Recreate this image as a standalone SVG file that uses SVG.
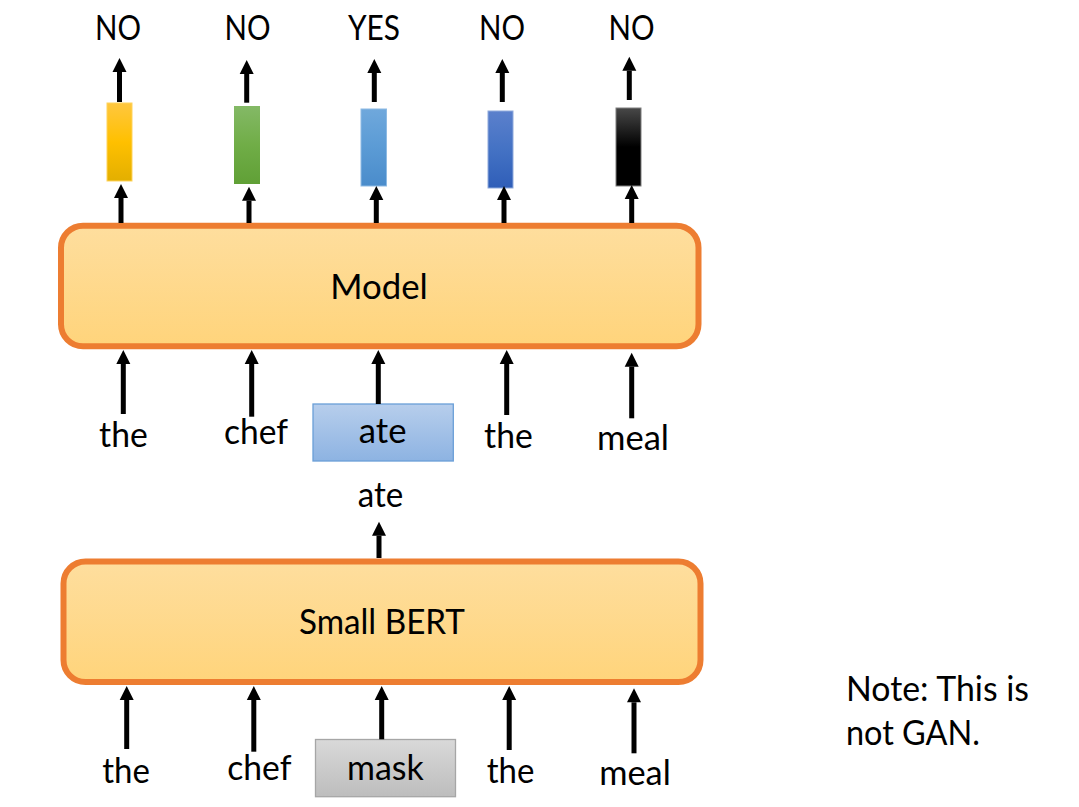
<svg xmlns="http://www.w3.org/2000/svg" width="1079" height="807" viewBox="0 0 1079 807">
<style>
text{font-family:Lato,"Liberation Sans",sans-serif;font-size:34px;fill:#000}
.c{text-anchor:middle}
.ar{stroke:#000;stroke-width:5;fill:none;marker-end:url(#ah)}
.box{stroke:#ED7D31;stroke-width:6;fill:url(#gOr)}
</style>
<defs>
<marker id="ah" markerUnits="userSpaceOnUse" markerWidth="14" markerHeight="14" refX="0" refY="7" orient="auto" overflow="visible">
<path d="M0,0 L14,7 L0,14 z" fill="#000"/>
</marker>
<linearGradient id="gOr" x1="0" y1="0" x2="0" y2="1"><stop offset="0" stop-color="#FEDE9E"/><stop offset="1" stop-color="#FFD47B"/></linearGradient>
<linearGradient id="gBlueBox" x1="0" y1="0" x2="0" y2="1"><stop offset="0" stop-color="#B7CEEC"/><stop offset="1" stop-color="#8DB3E2"/></linearGradient>
<linearGradient id="gGray" x1="0" y1="0" x2="0" y2="1"><stop offset="0" stop-color="#D9D9D9"/><stop offset="1" stop-color="#BDBDBD"/></linearGradient>
<linearGradient id="g1" x1="0" y1="0" x2="0" y2="1"><stop offset="0" stop-color="#FFC73F"/><stop offset="0.5" stop-color="#FFC000"/><stop offset="1" stop-color="#E3AF00"/></linearGradient>
<linearGradient id="g2" x1="0" y1="0" x2="0" y2="1"><stop offset="0" stop-color="#84B966"/><stop offset="0.5" stop-color="#70AD47"/><stop offset="1" stop-color="#60A036"/></linearGradient>
<linearGradient id="g3" x1="0" y1="0" x2="0" y2="1"><stop offset="0" stop-color="#6FA8DC"/><stop offset="0.5" stop-color="#5B9BD5"/><stop offset="1" stop-color="#4A8CCB"/></linearGradient>
<linearGradient id="g4" x1="0" y1="0" x2="0" y2="1"><stop offset="0" stop-color="#5B80CC"/><stop offset="0.5" stop-color="#4472C4"/><stop offset="1" stop-color="#2F5EB8"/></linearGradient>
<linearGradient id="g5" x1="0" y1="0" x2="0" y2="1"><stop offset="0" stop-color="#484848"/><stop offset="0.5" stop-color="#000"/><stop offset="1" stop-color="#000"/></linearGradient>
</defs>

<g id="labels-top">
<text class="c" x="118" y="39.5" textLength="46" lengthAdjust="spacingAndGlyphs">NO</text>
<text class="c" x="247.5" y="39.5" textLength="46" lengthAdjust="spacingAndGlyphs">NO</text>
<text class="c" x="374" y="39.5" textLength="52" lengthAdjust="spacingAndGlyphs">YES</text>
<text class="c" x="502" y="39.5" textLength="46" lengthAdjust="spacingAndGlyphs">NO</text>
<text class="c" x="631.5" y="39.5" textLength="46" lengthAdjust="spacingAndGlyphs">NO</text>
</g>

<g id="vectors">
<rect id="v1" x="107" y="103" width="25" height="78" fill="url(#g1)" stroke="#FFD35C" stroke-width="1"/>
<rect id="v2" x="234" y="106" width="26" height="78" fill="url(#g2)"/>
<rect id="v3" x="361" y="109" width="25.5" height="77" fill="url(#g3)" stroke="#8DBAE3" stroke-width="1"/>
<rect id="v4" x="488" y="111" width="25" height="77" fill="url(#g4)" stroke="#8FAADC" stroke-width="1"/>
<rect id="v5" x="616" y="108" width="25" height="78" fill="url(#g5)" stroke="#7F7F7F" stroke-width="1"/>
</g>

<g id="model">
<rect class="box" x="61" y="225.7" width="637.5" height="120.6" rx="22" ry="22"/>
<text class="c" x="379" y="299.3" textLength="97.6" lengthAdjust="spacingAndGlyphs">Model</text>
</g>

<g id="ate-box">
<rect x="313" y="404" width="140.3" height="57" fill="url(#gBlueBox)" stroke="#6A9FD8" stroke-width="1.3"/>
<text class="c" x="382.6" y="443.3" textLength="47.7" lengthAdjust="spacingAndGlyphs">ate</text>
</g>

<g id="row1">
<text class="c" x="123.4" y="447" textLength="48.7" lengthAdjust="spacingAndGlyphs">the</text>
<text class="c" x="256" y="444" textLength="64" lengthAdjust="spacingAndGlyphs">chef</text>
<text class="c" x="508.4" y="448.3" textLength="48.7" lengthAdjust="spacingAndGlyphs">the</text>
<text class="c" x="633" y="450" textLength="72" lengthAdjust="spacingAndGlyphs">meal</text>
</g>

<g id="ate-out">
<text class="c" x="380.5" y="506.7" textLength="45.6" lengthAdjust="spacingAndGlyphs">ate</text>
</g>

<g id="small-bert">
<rect class="box" x="63.5" y="561.5" width="637" height="120.5" rx="22" ry="22"/>
<text class="c" x="382" y="634" textLength="166" lengthAdjust="spacingAndGlyphs">Small BERT</text>
</g>

<g id="mask-box">
<rect x="315.5" y="739.5" width="140" height="57.2" fill="url(#gGray)" stroke="#A6A6A6" stroke-width="1.3"/>
<text class="c" x="385.4" y="780" textLength="76.8" lengthAdjust="spacingAndGlyphs">mask</text>
</g>

<g id="row2">
<text class="c" x="126" y="783.3" textLength="47.7" lengthAdjust="spacingAndGlyphs">the</text>
<text class="c" x="259.4" y="780" textLength="64.2" lengthAdjust="spacingAndGlyphs">chef</text>
<text class="c" x="510.5" y="783.3" textLength="47.7" lengthAdjust="spacingAndGlyphs">the</text>
<text class="c" x="635" y="785" textLength="71.6" lengthAdjust="spacingAndGlyphs">meal</text>
</g>

<g id="note">
<text x="846" y="700.7" textLength="183" lengthAdjust="spacingAndGlyphs">Note: This is</text>
<text x="846" y="745" textLength="134" lengthAdjust="spacingAndGlyphs">not GAN.</text>
</g>

<g id="connectors">
<line class="ar" x1="119.5" y1="102" x2="119.5" y2="72"/>
<line class="ar" x1="246.7" y1="102.7" x2="246.7" y2="74"/>
<line class="ar" x1="374.3" y1="102" x2="374.3" y2="73"/>
<line class="ar" x1="502.3" y1="102" x2="502.3" y2="73"/>
<line class="ar" x1="629.3" y1="100" x2="629.3" y2="70.7"/>

<line class="ar" x1="121" y1="223" x2="121" y2="198"/>
<line class="ar" x1="249" y1="223" x2="249" y2="200.7"/>
<line class="ar" x1="376.3" y1="223" x2="376.3" y2="200"/>
<line class="ar" x1="504" y1="223" x2="504" y2="200"/>
<line class="ar" x1="631.7" y1="223" x2="631.7" y2="199"/>

<line class="ar" x1="123.3" y1="414" x2="123.3" y2="364"/>
<line class="ar" x1="251.7" y1="416.7" x2="251.7" y2="364"/>
<line class="ar" x1="378.3" y1="404" x2="378.3" y2="364"/>
<line class="ar" x1="506.7" y1="415" x2="506.7" y2="364"/>
<line class="ar" x1="631.7" y1="418.3" x2="631.7" y2="366.7"/>

<line class="ar" x1="379" y1="558" x2="379" y2="535.7"/>

<line class="ar" x1="126.7" y1="749" x2="126.7" y2="700"/>
<line class="ar" x1="253.8" y1="751.7" x2="253.8" y2="700"/>
<line class="ar" x1="381.7" y1="739.3" x2="381.7" y2="700"/>
<line class="ar" x1="509.2" y1="750" x2="509.2" y2="700"/>
<line class="ar" x1="634" y1="753.3" x2="634" y2="702.3"/>
</g>
</svg>
